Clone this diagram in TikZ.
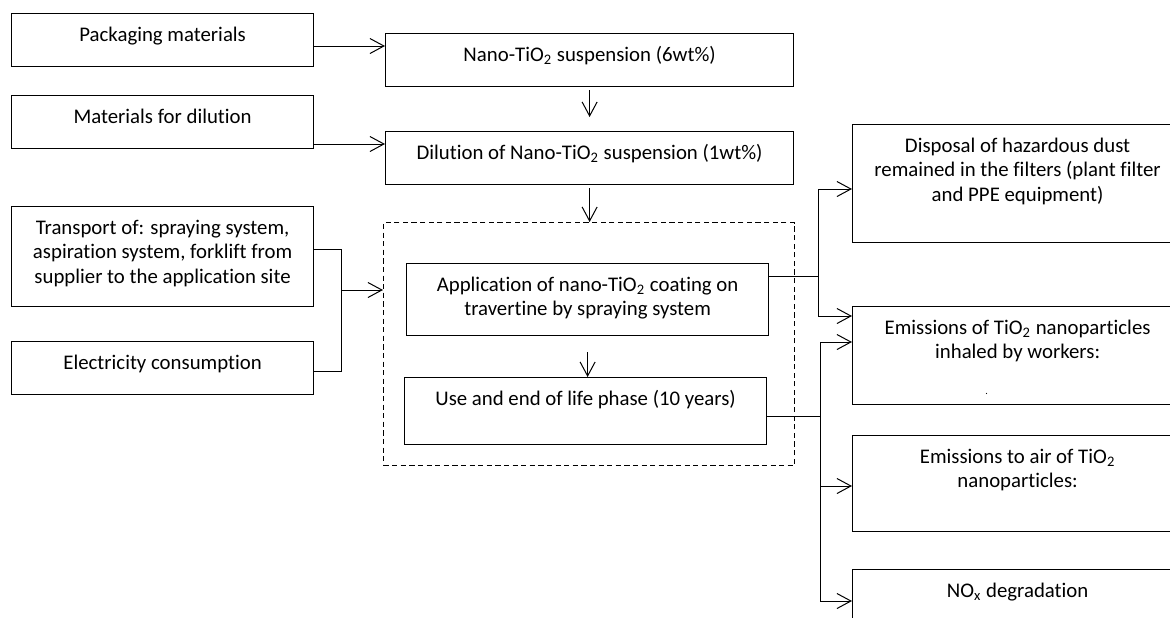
\documentclass[tikz,border=0pt]{standalone}
\usepackage{fontspec}
\setmainfont{Carlito}[Ligatures=NoCommon]
\usetikzlibrary{arrows.meta}

\begin{document}
\begin{tikzpicture}[x=0.5pt, y=-0.5pt,
    block/.style 2 args = {draw, line width=0.6pt, inner sep=0pt, anchor=north west,
        font=\fontsize{10.4pt}{12.3pt}\selectfont,
        execute at begin node={\begin{minipage}[t][#2][t]{#1}\centering\vspace*{5.1pt}\strut},
        execute at end node={\end{minipage}}},
    group/.style = {draw, line width=0.5pt, dash pattern=on 2.6pt off 1.7pt, inner sep=0pt, anchor=north west},
    link/.style = {line width=0.5pt},
    flow/.style = {line width=0.5pt, -{Straight Barb[length=7pt, width=7.5pt]}}]
                        \useasboundingbox (0,0) rectangle (1170,617);
                        \clip (0,0) rectangle (1170,617);

                        \node[block={151pt}{26.5pt}](pack) at (11,13) {Packaging materials};
                        \node[block={151pt}{26.5pt}](mat) at (11,95) {Materials for dilution};
                        \node[block={151pt}{50pt}](trans) at (11,206) {Transport of: spraying system,\\aspiration system, forklift from\\supplier to the application site};
                        \node[block={151pt}{26.5pt}](elec) at (11,341) {Electricity consumption};

                        \node[block={204pt}{26.5pt}](nano) at (385,33) {Nano-TiO\textsubscript{2} suspension (6wt\%)};
                        \node[block={204pt}{26.5pt}](dil) at (385,131) {Dilution of Nano-TiO\textsubscript{2} suspension (1wt\%)};
                        \node[group, minimum width=205.5pt, minimum height=121.5pt](grp) at (383,222) {};
                        \node[block={181pt}{36pt}](app) at (406,263) {Application of nano-TiO\textsubscript{2} coating on\\travertine by spraying system};
                        \node[block={181pt}{33.5pt}](use) at (404,377) {Use and end of life phase (10 years)};

                        \node[block={165pt}{59pt}](disp) at (852,124) {Disposal of hazardous dust\\remained in the filters (plant filter\\and PPE equipment)};
                        \node[block={165pt}{49pt}](inh) at (852,306) {Emissions of TiO\textsubscript{2} nanoparticles\\inhaled by workers:\\[5.7pt]\hspace*{-31pt}{\tiny .}};
                        \node[block={165pt}{48pt}](air) at (852,435) {Emissions to air of TiO\textsubscript{2}\\nanoparticles:};
                        \node[block={165pt}{48pt}](nox) at (852,569) {NO\textsubscript{x} degradation};

                        \coordinate (p1) at (385,46); \coordinate (m1) at (385,144);
                        \draw[flow] (pack.east |- p1) -- (p1);\draw[flow] (mat.east |- m1) -- (m1);
                        \draw[flow] ([yshift=-1.5pt]nano.south) -- ([yshift=7pt]dil.north);
                        \draw[flow] ([yshift=-1.5pt]dil.south) -- (dil.south |- grp.north);

                        \coordinate (t1) at (341,249); \coordinate (e1) at (341,371); \coordinate (b1) at (341,290);
                        \draw[link] (trans.east |- t1) -- (t1) -- (e1) -- (elec.east |- e1);
                        \draw[flow] (b1) -- (grp.west |- b1);
                        \draw[flow] ([yshift=-8pt]app.south) -- (app.south |- use.north);

                        \coordinate (a1) at (818,276); \coordinate (u1) at (820,416);
                        \draw[link] (app.east |- a1) -- (a1);
                        \draw[flow] (a1) |- (disp.west |- 0,189);\draw[flow] (a1) |- (inh.west |- 0,316);
                        \draw[link] (use.east |- u1) -- (u1);
                        \draw[flow] (u1) |- (inh.west |- 0,342);\draw[flow] (u1) |- (air.west |- 0,486);
                        \draw[flow] (u1) |- (nox.west |- 0,601);
                    \end{tikzpicture}
\end{document}
